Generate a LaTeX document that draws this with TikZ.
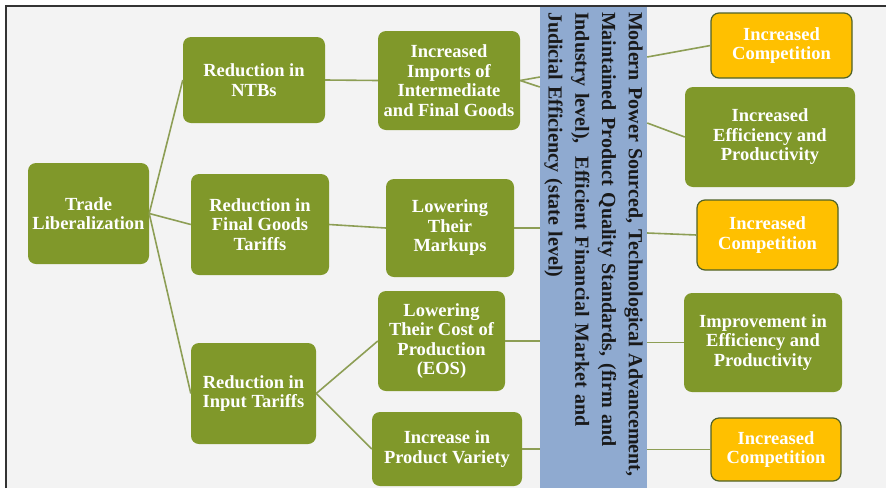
\documentclass[tikz,border=0pt]{standalone}
\usepackage{fontspec}
\setmainfont{Liberation Serif}
\usepackage{xcolor}
\definecolor{TradeGreen}{HTML}{80982A}
\definecolor{TradeGold} {HTML}{FFC000}
\definecolor{GoldEdge}  {HTML}{4F6228}
\definecolor{LinkGreen} {HTML}{8D9E55}
\definecolor{BarBlue}   {HTML}{8FAAD0}
\definecolor{SlideGray} {HTML}{F3F3F3}
\definecolor{FrameDark} {HTML}{333333}
\usepackage{tikz}

\begin{document}
\begin{tikzpicture}[x=1pt,y=-1pt,
  gbox/.style={fill=TradeGreen,rounded corners=8pt,text=white,
    font=\bfseries\fontsize{18.5}{19.5}\selectfont,align=center,inner sep=2pt},
  ybox/.style={gbox,fill=TradeGold,draw=GoldEdge,line width=1.2pt},
  link/.style={draw=LinkGreen,line width=1.6pt}]
  \useasboundingbox (0,0) rectangle (886,488);
  % Slide background
  \fill[SlideGray] (6,6) rectangle (886,488);
  % Column 1
  \node[gbox,minimum width=121pt,minimum height=101pt]
    (trade) at (88.5,213.5) {Trade\\Liberalization};
  % Column 2
  \node[gbox,minimum width=142pt,minimum height=86pt]
    (ntb) at (254,80) {Reduction in\\NTBs};
  \node[gbox,minimum width=138pt,minimum height=101pt]
    (fgt) at (260,224.5) {Reduction in\\Final Goods\\Tariffs};
  \node[gbox,minimum width=125pt,minimum height=101pt]
    (rit) at (253.5,393.5) {Reduction in\\Input Tariffs};
  % Column 3
  \node[gbox,minimum width=142pt,minimum height=99pt]
    (imp) at (449,80.5) {Increased\\Imports of\\Intermediate\\and Final Goods};
  \node[gbox,minimum width=128pt,minimum height=98pt]
    (mark) at (450,228) {Lowering\\Their\\Markups};
  \node[gbox,minimum width=127pt,minimum height=100pt]
    (cost) at (441.5,341) {Lowering\\Their Cost of\\Production\\(EOS)};
  \node[gbox,minimum width=150pt,minimum height=74pt]
    (var) at (447,449) {Increase in\\Product Variety};
  % Channel bar
  \node[rotate=-90,fill=BarBlue,minimum width=482pt,minimum height=107pt,
    text width=470pt,align=left,inner sep=0pt,text=black!90,
    font=\bfseries\fontsize{20}{26.7}\selectfont]
    (bar) at (593.5,247)
    {Modern Power Sourced, Technological Advancement,\\
     Maintained Product Quality Standards, (firm and\\
     Industry level),\ \ Efficient Financial Market and\\
     Judicial Efficiency (state level)};
  % Outcomes
  \node[ybox,minimum width=141pt,minimum height=65pt]
    (ic1) at (781.5,45.5) {Increased\\Competition};
  \node[gbox,minimum width=170pt,minimum height=100pt]
    (eff) at (770,137) {Increased\\Efficiency and\\Productivity};
  \node[ybox,minimum width=141pt,minimum height=70pt]
    (ic2) at (767.5,235) {Increased\\Competition};
  \node[gbox,minimum width=158pt,minimum height=99pt]
    (impr) at (763,342.5) {Improvement in\\Efficiency and\\Productivity};
  \node[ybox,minimum width=130pt,minimum height=63pt]
    (ic3) at (776,449.5) {Increased\\Competition};
  % Links into column 2 and 3
  \draw[link] (trade.east) -- (ntb.west);
  \draw[link] (trade.east) -- (fgt.west);
  \draw[link] (trade.east) -- (rit.west);
  \draw[link] (ntb.east) -- (imp.west);
  \draw[link] (fgt.east) -- (mark.west);
  \draw[link] (rit.east) -- (cost.west);
  \draw[link] (rit.east) -- (var.west);
  % Links into the bar
  \draw[link] (imp.east) -- ([yshift=170pt]bar.south);
  \draw[link] (imp.east) -- ([yshift=160pt]bar.south);
  \draw[link] (mark.east) -- (mark.east -| bar.south);
  \draw[link] (cost.east) -- (cost.east -| bar.south);
  \draw[link] (var.east) -- (var.east -| bar.south);
  % Links out of the bar
  \draw[link] ([yshift=190pt]bar.north) -- (ic1.west);
  \draw[link] ([yshift=124pt]bar.north) -- (eff.west);
  \draw[link] ([yshift=14pt]bar.north) -- (ic2.west);
  \draw[link] (impr.west -| bar.north) -- (impr.west);
  \draw[link] (ic3.west -| bar.north) -- (ic3.west);
  % Frame
  \draw[FrameDark,line width=2pt] (6,488) -- (6,6) -- (886,6);
\end{tikzpicture}
\end{document}
